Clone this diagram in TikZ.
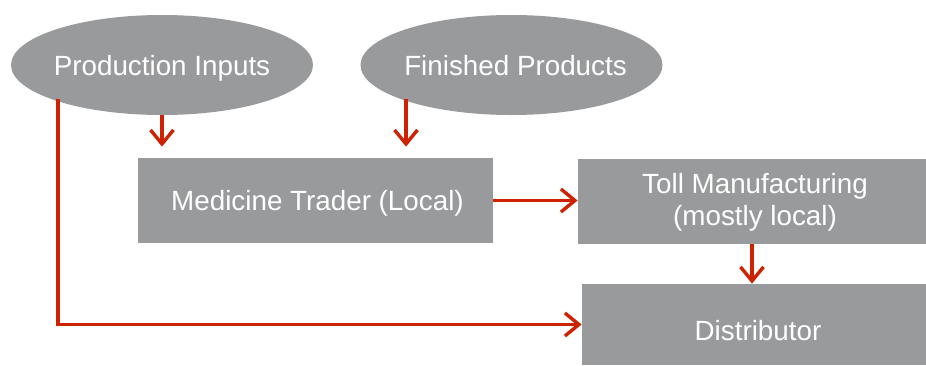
\documentclass[tikz,border=0pt]{standalone}
\usepackage{fontspec}
\setmainfont{Liberation Sans}
\usetikzlibrary{shapes.geometric,arrows.meta}
\definecolor{boxgray}{HTML}{989A9B}
\definecolor{arrred}{HTML}{CC2200}
\newcommand{\centred}[2]{\makebox[0pt]{\raisebox{#1}[0pt][0pt]{#2}}}
\tikzset{
  oval/.style={ellipse, fill=boxgray, draw=none, text=white, minimum width=151pt, minimum height=50pt, inner sep=0pt},
  panel/.style={rectangle, fill=boxgray, draw=none, text=white, inner sep=0pt},
  arr/.style={draw=arrred, line width=1.7pt, -{Straight Barb[length=7pt,width=11.5pt]}},
}
\begin{document}
\begin{tikzpicture}[x=0.5pt,y=-0.5pt, every node/.append style={font=\fontsize{13.9}{16}\selectfont}]
\useasboundingbox (0,0) rectangle (926,365);
\node[oval] (pi) at (162,65) {\centred{-5pt}{Production Inputs}};
\node[oval] (fp) at (511.5,65) {\centred{-5pt}{\hspace{4pt}Finished Products}};
\node[panel, minimum width=177.5pt, minimum height=42.5pt] (mt) at (315.5,200.5) {\centred{-4.75pt}{\hspace{2pt}Medicine Trader (Local)}};
\node[panel, minimum width=174pt, minimum height=42.5pt] (tm) at (752,201.5) {\centred{-11.75pt}{\hspace{3pt}\begin{tabular}[b]{@{}c@{}}Toll Manufacturing\\(mostly local)\end{tabular}}};
\node[panel, minimum width=172pt, minimum height=40.5pt] (dist) at (754,324.5) {\centred{-7.75pt}{\hspace{4pt}Distributor}};
\coordinate (pis) at (58,99);
\coordinate (fps) at (406,99);
\draw[arr, shorten >=5.5pt] (pi.south) -- (pi.south |- mt.north);
\draw[arr, shorten >=5.5pt] (fps) -- (fps |- mt.north);
\draw[arr] (mt.east) -- (mt.east -| tm.west);
\draw[arr] (tm.south) -- (tm.south |- dist.north);
\draw[arr] (pis) |- (dist.west);
\end{tikzpicture}
\end{document}
